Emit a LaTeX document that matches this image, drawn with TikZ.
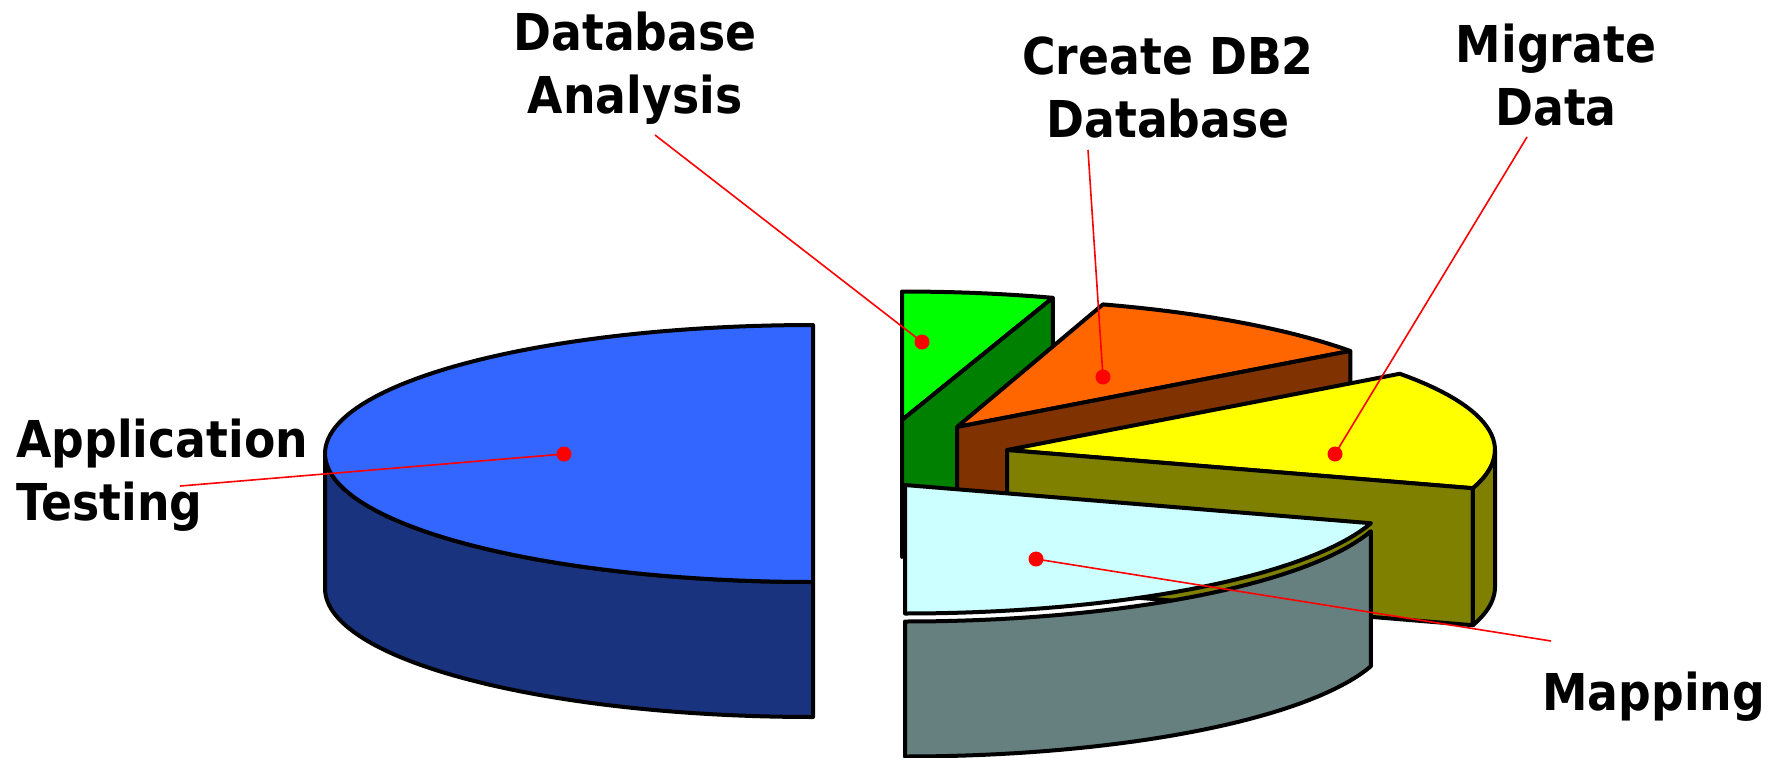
\documentclass[tikz,border=0pt]{standalone}
\usepackage{fontspec}
\setmainfont{DejaVu Sans}[FakeStretch=0.9]
\definecolor{bluetop}{HTML}{3366FF}
\definecolor{blueside}{HTML}{1A337F}
\definecolor{greentop}{HTML}{00FF00}
\definecolor{greenside}{HTML}{008000}
\definecolor{orangetop}{HTML}{FF6600}
\definecolor{orangeside}{HTML}{803300}
\definecolor{yellowtop}{HTML}{FFFF00}
\definecolor{yellowside}{HTML}{808000}
\definecolor{cyantop}{HTML}{CCFFFF}
\definecolor{cyanside}{HTML}{668080}
\tikzset{
  face/.style={draw=black, line width=2pt, line join=round},
  leader/.style={draw=red, line width=0.8pt},
  dot/.style={circle, fill=red, inner sep=0pt, minimum size=7.5pt},
  lbl/.style={font=\bfseries\fontsize{25.4}{31.5}\selectfont, inner sep=0pt},
}
% ellipse radii of the pie (pixel units)
\newcommand\rx{488}
\newcommand\ry{128.5}
\begin{document}
\begin{tikzpicture}[x=0.5pt, y=-0.5pt]
\useasboundingbox (0,0) rectangle (1788,757);

% --- Application Testing: large slice on the left
\fill[blueside, face] plot[domain=180:270, samples=60] ({813+\rx*cos(\x)},{453.5-\ry*sin(\x)})
  -- plot[domain=270:180, samples=60] ({813+\rx*cos(\x)},{588.5-\ry*sin(\x)}) -- cycle;
\fill[bluetop, face] plot[domain=90:270, samples=100] ({813+\rx*cos(\x)},{453.5-\ry*sin(\x)}) -- cycle;

% --- Database Analysis
\fill[greentop, face] plot[domain=90:72, samples=10] ({902+\rx*cos(\x)},{420-\ry*sin(\x)}) -- (902,420) -- cycle;
\fill[greenside, face] (902,420) -- ({902+\rx*cos(72)},{420-\ry*sin(72)}) -- ++(0,137) -- (902,557) -- cycle;

% --- Create DB2 Database
\fill[orangetop, face] (957,427) -- plot[domain=72.6:36.3, samples=20] ({957+\rx*cos(\x)},{427-\ry*sin(\x)}) -- cycle;
\fill[orangeside, face] (957,427) -- ({957+\rx*cos(36.3)},{427-\ry*sin(36.3)}) -- ++(0,137) -- (957,564) -- cycle;

% --- Migrate Data
\fill[yellowtop, face] (1007,450) -- plot[domain=36.4:-17.3, samples=30] ({1007+\rx*cos(\x)},{450-\ry*sin(\x)}) -- cycle;
\fill[yellowside, face] (1007,450) -- ({1007+\rx*cos(-17.3)},{450-\ry*sin(-17.3)}) -- ++(0,137) -- (1007,587) -- cycle;
\fill[yellowside, face] plot[domain=-17.3:0, samples=12] ({1007+\rx*cos(\x)},{450-\ry*sin(\x)})
  -- plot[domain=0:-17.3, samples=12] ({1007+\rx*cos(\x)},{587-\ry*sin(\x)}) -- cycle;

% --- Mapping
\fill[cyantop, face] (905,485) -- plot[domain=-17.3:-90, samples=40] ({905+\rx*cos(\x)},{485-\ry*sin(\x)}) -- cycle;
\fill[cyanside, face] plot[domain=-17.3:-90, samples=40] ({905+\rx*cos(\x)},{493-\ry*sin(\x)})
  -- plot[domain=-90:-17.3, samples=40] ({905+\rx*cos(\x)},{628-\ry*sin(\x)}) -- cycle;

% --- labels (base anchor sits on the last line)
\node[lbl, anchor=base west, align=left] (tAT) at (16,520) {Application\\Testing};
\node[lbl, anchor=base, align=center] (tDA) at (635,113) {Database\\Analysis};
\node[lbl, anchor=base, align=center] (tDB) at (1168,137) {Create DB2\\Database};
\node[lbl, anchor=base, align=center] (tMD) at (1556,125) {Migrate\\Data};
\node[lbl, anchor=base west] (tMP) at (1542,710) {Mapping};

% --- leader dots and lines
\node[dot] (dAT) at (564,454) {};
\node[dot] (dDA) at (922,342) {};
\node[dot] (dDB) at (1103,377) {};
\node[dot] (dMD) at (1335,454) {};
\node[dot] (dMP) at (1036,559) {};
\coordinate (eAT) at (180,486);
\coordinate (eDA) at (655,135);
\coordinate (eDB) at (1088,150);
\coordinate (eMD) at (1527,137);
\coordinate (eMP) at (1551,641);
\draw[leader] (dAT.center) -- (eAT);
\draw[leader] (dDA.center) -- (eDA);
\draw[leader] (dDB.center) -- (eDB);
\draw[leader] (dMD.center) -- (eMD);
\draw[leader] (dMP.center) -- (eMP);
\end{tikzpicture}
\end{document}
